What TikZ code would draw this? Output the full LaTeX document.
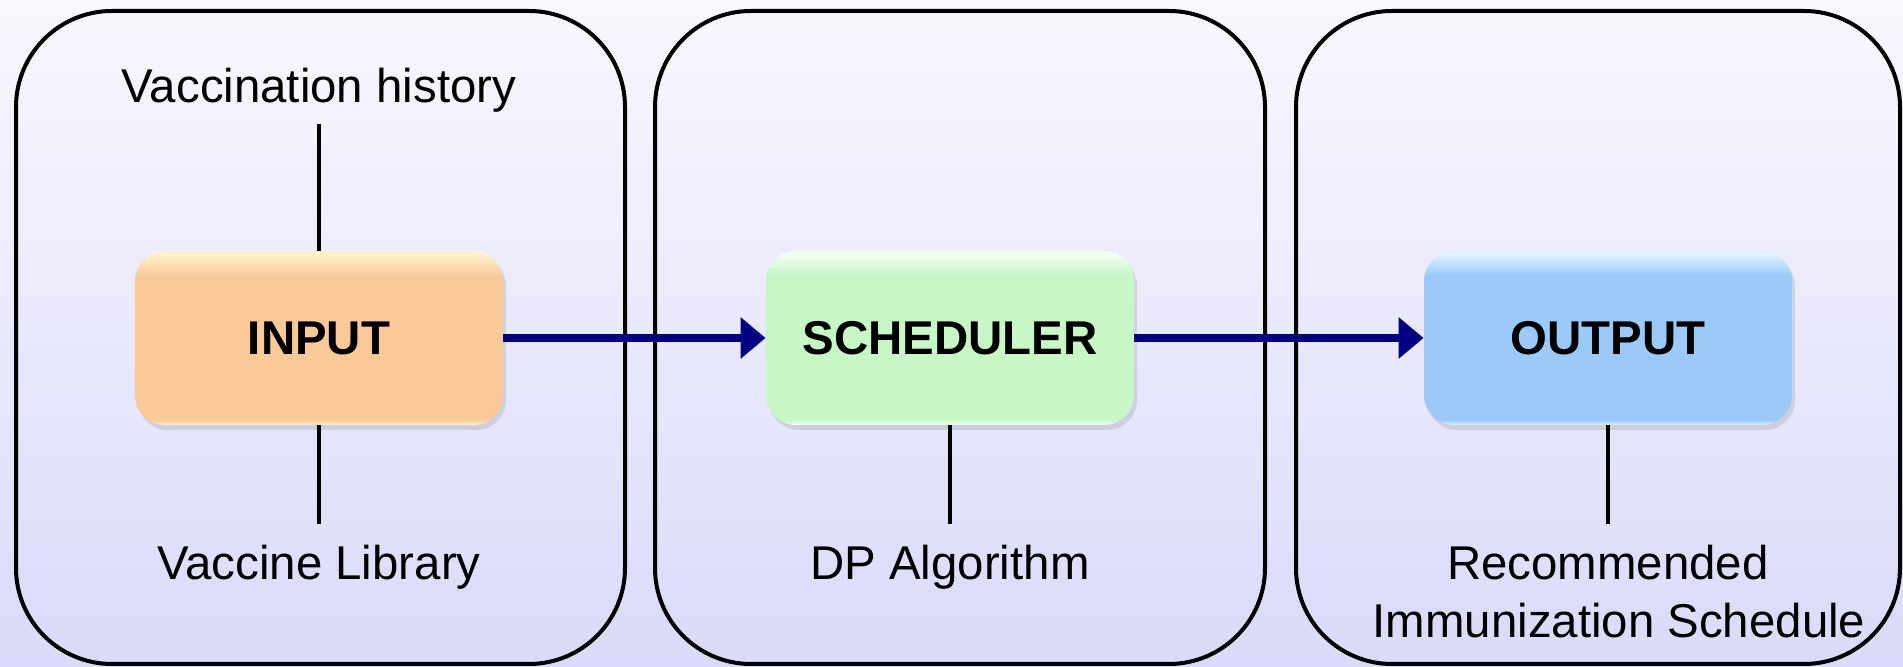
\documentclass[tikz,border=0pt]{standalone}
\usepackage{fontspec}
\setmainfont{Liberation Sans}
\usetikzlibrary{arrows.meta,calc,shadows}
\definecolor{bgtop}{RGB}{248,248,254}
\definecolor{bgbot}{RGB}{218,218,250}
\definecolor{navyarrow}{RGB}{0,0,128}
\definecolor{inmain}{RGB}{249,201,153}
\definecolor{inhi}{RGB}{255,242,204}
\definecolor{schmain}{RGB}{199,246,199}
\definecolor{schhi}{RGB}{240,255,240}
\definecolor{outmain}{RGB}{156,202,248}
\definecolor{outhi}{RGB}{222,242,255}
\pgfdeclareverticalshading{inshade}{100bp}{color(0bp)=(inhi); color(25bp)=(inhi); color(26.5bp)=(inmain); color(68bp)=(inmain); color(74bp)=(inhi); color(100bp)=(inhi)}
\pgfdeclareverticalshading{schshade}{100bp}{color(0bp)=(schhi); color(25bp)=(schhi); color(26.5bp)=(schmain); color(68bp)=(schmain); color(74bp)=(schhi); color(100bp)=(schhi)}
\pgfdeclareverticalshading{outshade}{100bp}{color(0bp)=(outhi); color(25bp)=(outhi); color(26.5bp)=(outmain); color(68bp)=(outmain); color(74bp)=(outhi); color(100bp)=(outhi)}
\tikzset{
  panel/.style={draw=black, line width=2pt, rounded corners=48pt},
  box/.style={rounded corners=15pt, minimum width=184pt, minimum height=87pt, inner sep=0pt,
    font=\fontsize{23.7}{28}\selectfont\bfseries,
    drop shadow={opacity=0.22, shadow xshift=1.5pt, shadow yshift=-2.5pt}},
  lbl/.style={font=\fontsize{23.7}{28}\selectfont, inner sep=0pt, anchor=base},
  conn/.style={draw=black, line width=1.7pt},
  flow/.style={draw=navyarrow, line width=4pt, -{Triangle[length=12.5pt,width=20pt]}},
}
\begin{document}
\begin{tikzpicture}[x=0.5pt, y=-0.5pt]
\useasboundingbox (0,0) rectangle (1903,667);
\shade[top color=bgtop, bottom color=bgbot] (0,0) rectangle (1903,667);
% panels
\draw[panel] (16,11) rectangle (625,664);
\draw[panel] (655,11) rectangle (1265,664);
\draw[panel] (1296,11) rectangle (1900,664);
% boxes
\node[box, shade, shading=inshade] (inp) at (319,338) {INPUT};
\node[box, shade, shading=schshade] (sch) at (950,338) {SCHEDULER};
\node[box, shade, shading=outshade] (outp) at (1608,338) {OUTPUT};
% labels
\node[lbl] (vh) at (319,103) {Vaccination history};
\node[lbl] (vl) at (319,580) {Vaccine Library};
\node[lbl] (dp) at (950,580) {DP Algorithm};
\node[lbl] (rec) at (1608,580) {Recommended};
\node[lbl] (imm) at (1619,638) {Immunization Schedule};
% connectors
\draw[conn] (inp.north) -- ($(vh.base)+(0,21)$);
\draw[conn] (inp.south) -- ($(vl.base)+(0,-56)$);
\draw[conn] (sch.south) -- ($(dp.base)+(0,-56)$);
\draw[conn] (outp.south) -- ($(rec.base)+(0,-56)$);
\draw[flow] (inp.east) -- (sch.west);
\draw[flow] (sch.east) -- (outp.west);
\end{tikzpicture}
\end{document}
